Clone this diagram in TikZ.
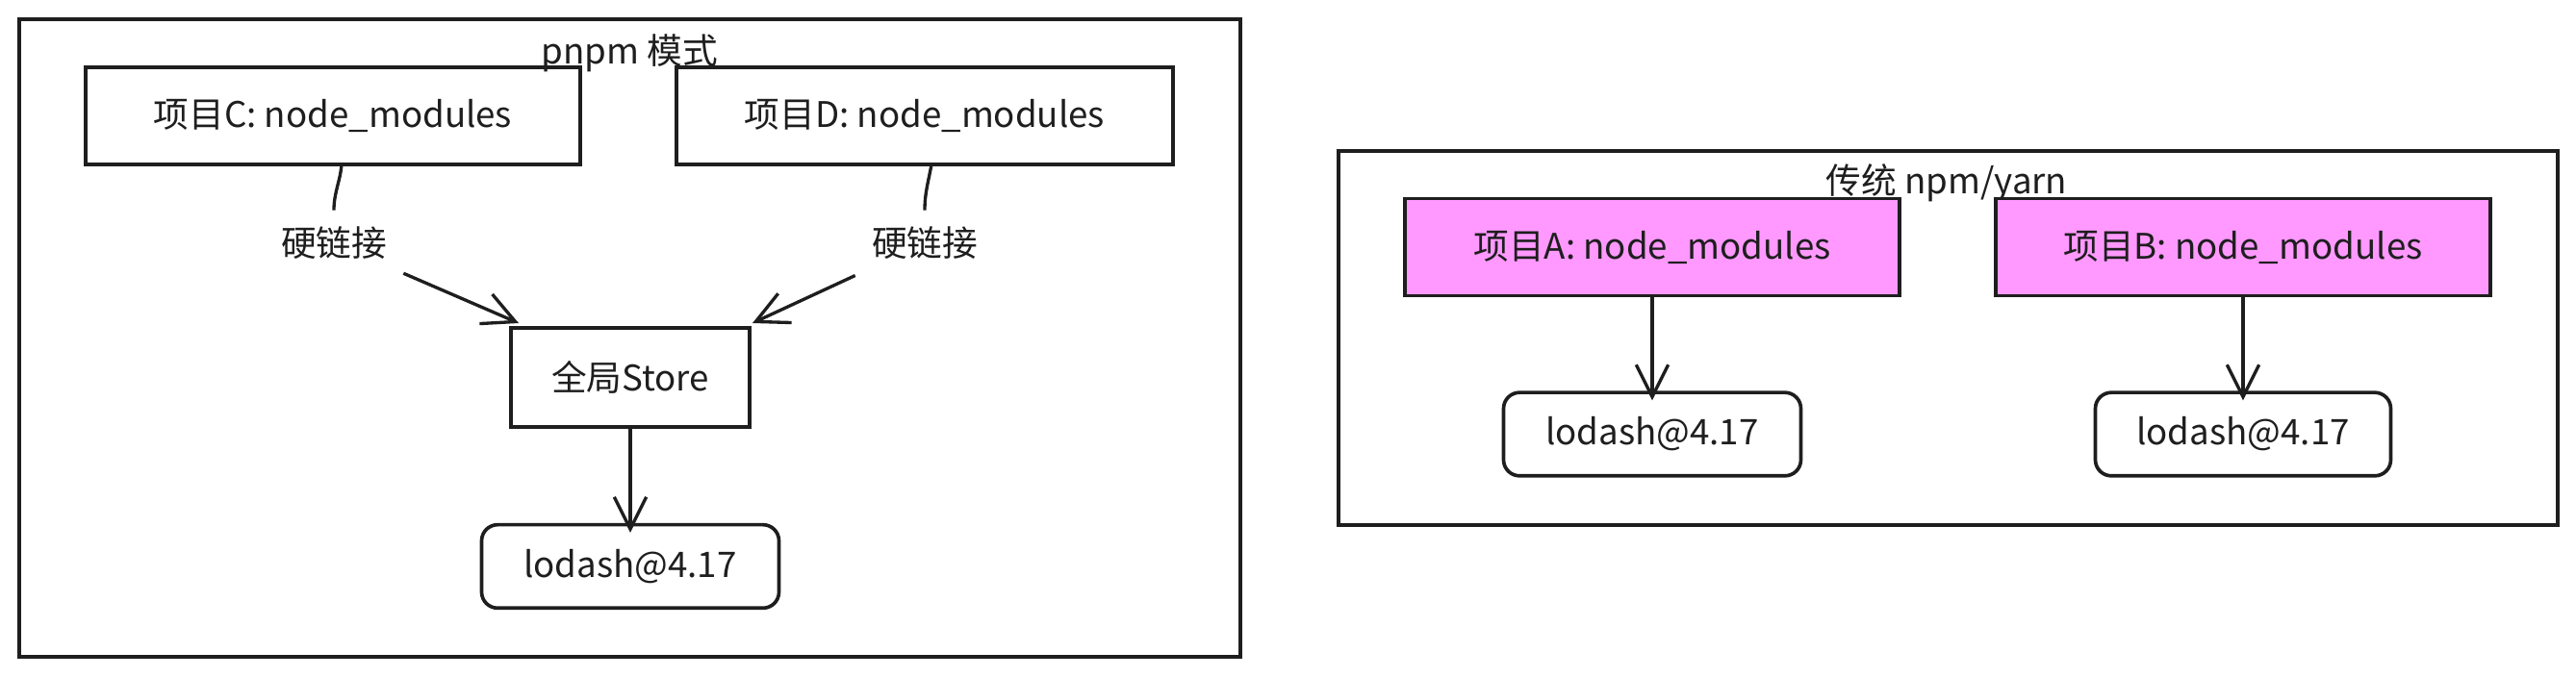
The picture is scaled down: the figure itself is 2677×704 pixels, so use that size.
\documentclass[tikz,border=0pt]{standalone}
\usepackage{fontspec}
\setmainfont{Noto Sans CJK SC}
\usetikzlibrary{arrows.meta}
\definecolor{ink}{HTML}{1E1E1E}
\definecolor{pinkfill}{HTML}{FF99FF}
\begin{document}
\begin{tikzpicture}[x=0.3pt,y=-0.3pt,
  every node/.style={font=\fontsize{11pt}{13pt}\selectfont, text=ink},
  frame/.style={draw=ink, line width=1pt},
  box/.style={draw=ink, line width=1.1pt, minimum width=#1*0.3pt, minimum height=30.3pt, inner sep=0pt},
  pbox/.style={box=#1, fill=pinkfill},
  lbox/.style={draw=ink, line width=1.1pt, rounded corners=5pt, minimum width=#1*0.3pt, minimum height=26pt, inner sep=0pt},
  lbl/.style={inner sep=5pt},
  conn/.style={draw=ink, line width=1pt},
  arr/.style={conn, -{Straight Barb[length=10pt,width=10pt,line width=1pt]}}
]
\useasboundingbox (0,0) rectangle (2677,704);
% left frame
\draw[frame] (20,20) rectangle (1289,683);
\node (tl) at (654,55) {pnpm 模式};
\node[box=514] (C) at (346,120.5) {项目C: node\_modules};
\node[box=516] (D) at (961,120.5) {项目D: node\_modules};
\node[box=248, minimum height=30.9pt] (S) at (655,392.5) {全局Store};
\node[lbox=309] (L1) at (655,589) {lodash@4.17};
\node[lbl] (h1) at (347,253) {硬链接};
\node[lbl] (h2) at (961,253) {硬链接};
\coordinate (c1) at (355,171);
\coordinate (d1) at (968,171);
\coordinate (s1) at (539,336);
\coordinate (s2) at (782,336);
\draw[conn] (c1) to[out=-95,in=90] (h1);
\draw[arr] (h1) -- (s1);
\draw[conn] (d1) to[out=-100,in=90] (h2);
\draw[arr] (h2) -- (s2);
\draw[arr] (S.south) -- ([yshift=-3pt]L1.north);
% right frame
\draw[frame] (1391,157) rectangle (2658,546);
\node (tr) at (2023,190) {传统 npm/yarn};
\node[pbox=514] (A) at (1717,257) {项目A: node\_modules};
\node[pbox=514] (B) at (2331,257) {项目B: node\_modules};
\node[lbox=309] (LA) at (1717,451.5) {lodash@4.17};
\node[lbox=307] (LB) at (2331,451.5) {lodash@4.17};
\draw[arr] (A.south) -- ([yshift=-3pt]LA.north);
\draw[arr] (B.south) -- ([yshift=-3pt]LB.north);
\end{tikzpicture}
\end{document}
